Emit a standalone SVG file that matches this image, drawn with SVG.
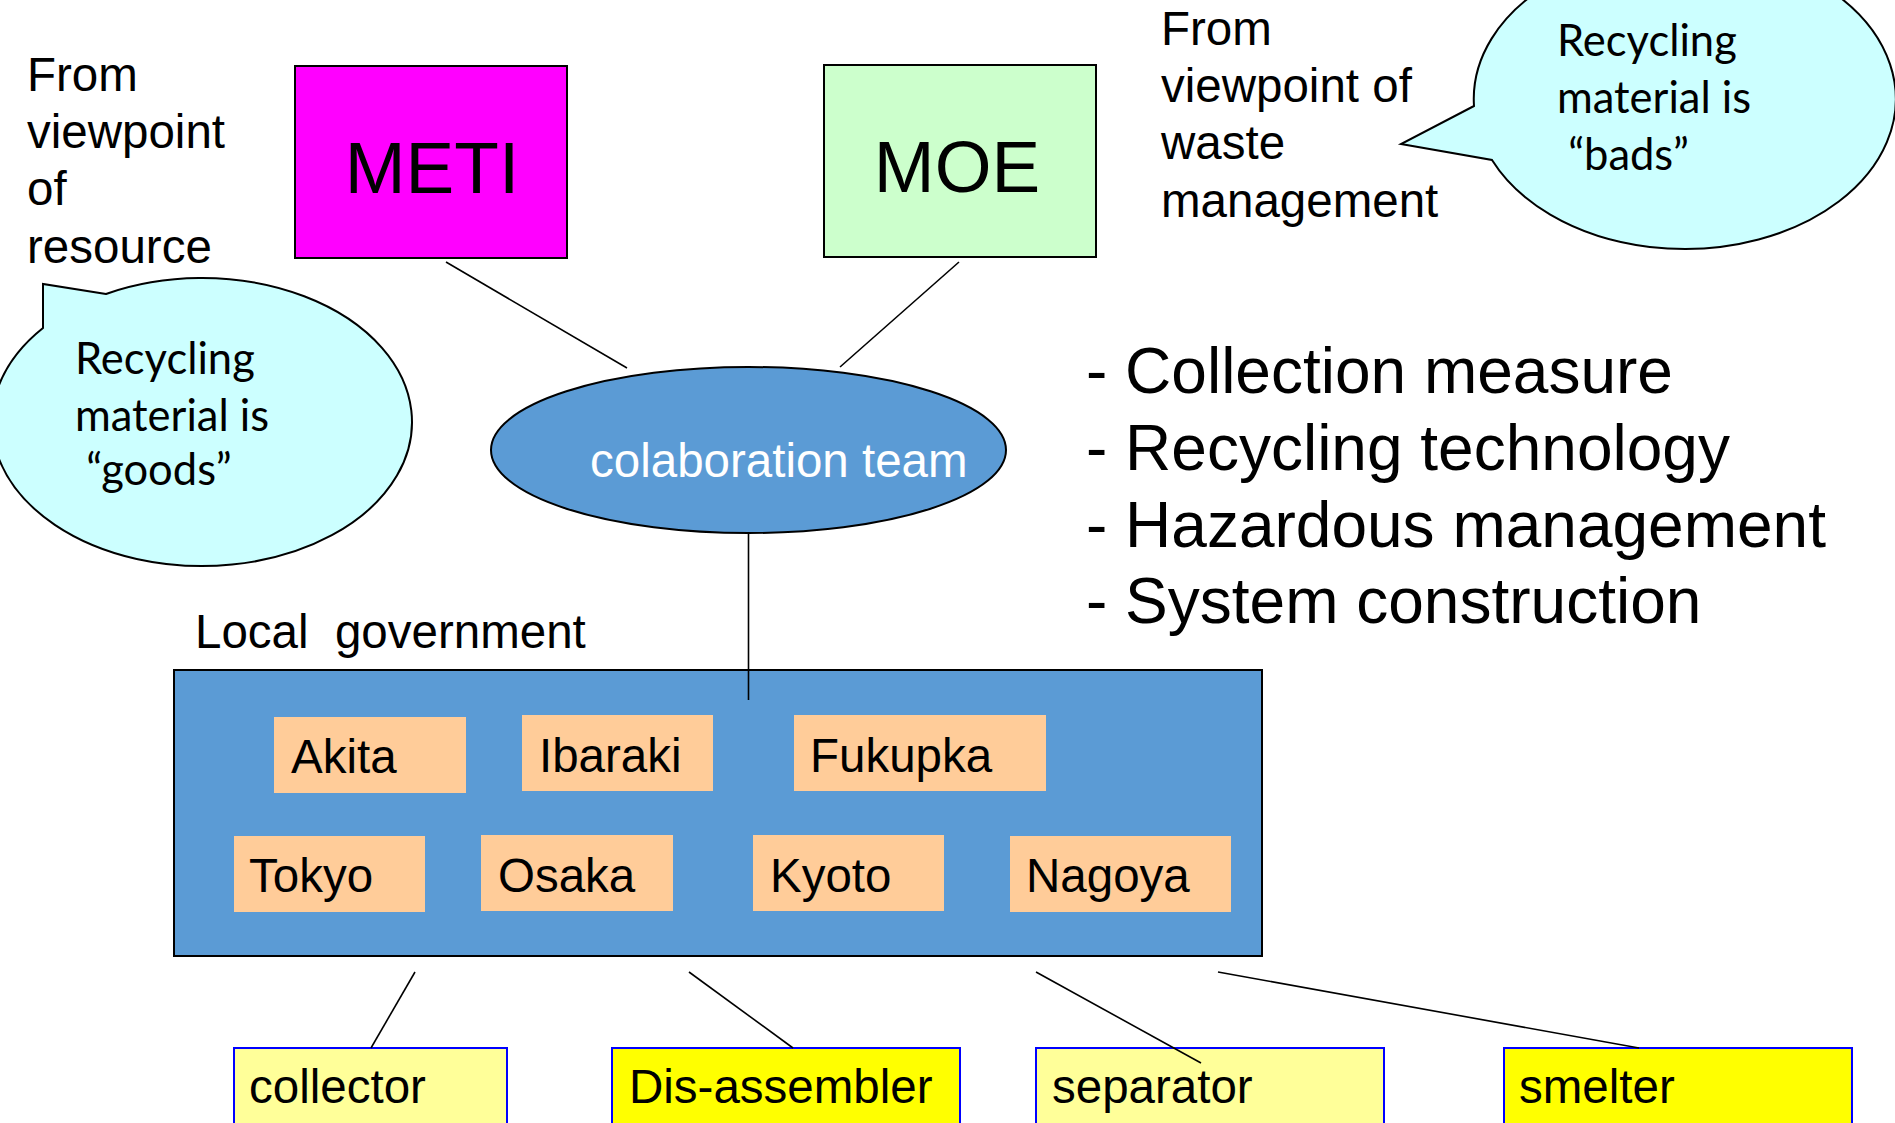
<svg xmlns="http://www.w3.org/2000/svg" width="1895" height="1123" viewBox="0 0 1895 1123">
<style>
text{font-family:"Liberation Sans",Arial,sans-serif;fill:#000}
.t{font-size:47.5px}
.big{font-size:73px;text-anchor:middle}
.list{font-size:64px}
.cal{font-family:Lato,"Liberation Sans",sans-serif;font-size:43.5px}
.city{fill:#FFCC99}
.ln{stroke:#000;stroke-width:1.6;fill:none}
.actor{stroke:#0000FF;stroke-width:2}
.bubble{fill:#CCFFFF;stroke:#000;stroke-width:2}
</style>
<rect width="1895" height="1123" fill="#fff"/>

<g id="note-resource">
<text class="t" x="27" y="91">From</text>
<text class="t" x="27" y="148">viewpoint</text>
<text class="t" x="27" y="205">of</text>
<text class="t" x="27" y="263">resource</text>
</g>

<g id="bubble-goods">
<path class="bubble" d="M 106 294 L 43 284 L 43 328 A 210 144 0 1 0 106 294 Z"/>
<text class="cal" x="75" y="374">Recycling</text>
<text class="cal" x="75" y="431">material is</text>
<text class="cal" x="75" y="485" xml:space="preserve"> “goods”</text>
</g>

<g id="meti">
<rect x="295" y="66" width="272" height="192" fill="#FF00FF" stroke="#000" stroke-width="2"/>
<text class="big" x="432" y="193">METI</text>
</g>

<g id="moe">
<rect x="824" y="65" width="272" height="192" fill="#CCFFCC" stroke="#000" stroke-width="2"/>
<text class="big" x="957" y="192">MOE</text>
</g>

<g id="note-waste">
<text class="t" x="1161" y="45">From</text>
<text class="t" x="1161" y="102">viewpoint of</text>
<text class="t" x="1161" y="159">waste</text>
<text class="t" x="1161" y="217">management</text>
</g>

<g id="bubble-bads">
<path class="bubble" d="M 1474 106 L 1401 144 L 1492 160 A 211 150 0 1 0 1474 106 Z"/>
<text class="cal" x="1557" y="56">Recycling</text>
<text class="cal" x="1557" y="113">material is</text>
<text class="cal" x="1557" y="170" xml:space="preserve"> “bads”</text>
</g>

<g id="team">
<ellipse cx="748.5" cy="450" rx="257.5" ry="83" fill="#5B9BD5" stroke="#000" stroke-width="2"/>
<text class="t" x="590" y="477" style="fill:#fff">colaboration team</text>
</g>

<g id="tasks">
<text class="list" x="1086" y="393">- Collection measure</text>
<text class="list" x="1086" y="470">- Recycling technology</text>
<text class="list" x="1086" y="547">- Hazardous management</text>
<text class="list" x="1086" y="623">- System construction</text>
</g>

<g id="local-government">
<text class="t" x="195" y="648" xml:space="preserve">Local  government</text>
<rect x="174" y="670" width="1088" height="286" fill="#5B9BD5" stroke="#000" stroke-width="2"/>
<g id="akita"><rect class="city" x="274" y="717" width="192" height="76"/><text class="t" x="291" y="773">Akita</text></g>
<g id="ibaraki"><rect class="city" x="522" y="715" width="191" height="76"/><text class="t" x="539" y="772">Ibaraki</text></g>
<g id="fukupka"><rect class="city" x="794" y="715" width="252" height="76"/><text class="t" x="810" y="772">Fukupka</text></g>
<g id="tokyo"><rect class="city" x="234" y="836" width="191" height="76"/><text class="t" x="249" y="892">Tokyo</text></g>
<g id="osaka"><rect class="city" x="481" y="835" width="192" height="76"/><text class="t" x="498" y="892">Osaka</text></g>
<g id="kyoto"><rect class="city" x="753" y="835" width="191" height="76"/><text class="t" x="770" y="892">Kyoto</text></g>
<g id="nagoya"><rect class="city" x="1010" y="836" width="221" height="76"/><text class="t" x="1026" y="892">Nagoya</text></g>
</g>

<g id="collector"><rect class="actor" x="234" y="1048" width="273" height="100" fill="#FFFF99"/><text class="t" x="249" y="1103">collector</text></g>
<g id="disassembler"><rect class="actor" x="612" y="1048" width="348" height="100" fill="#FFFF00"/><text class="t" x="629" y="1103">Dis-assembler</text></g>
<g id="separator"><rect class="actor" x="1036" y="1048" width="348" height="100" fill="#FFFF99"/><text class="t" x="1052" y="1103">separator</text></g>
<g id="smelter"><rect class="actor" x="1504" y="1048" width="348" height="100" fill="#FFFF00"/><text class="t" x="1519" y="1103">smelter</text></g>

<g id="connectors">
<line class="ln" x1="446" y1="262" x2="627" y2="368"/>
<line class="ln" x1="959" y1="262" x2="840" y2="367"/>
<line class="ln" x1="748.5" y1="533" x2="748.5" y2="700"/>
<line class="ln" x1="415" y1="972" x2="371" y2="1048"/>
<line class="ln" x1="689" y1="972" x2="793" y2="1048"/>
<line class="ln" x1="1036" y1="972" x2="1201" y2="1063"/>
<line class="ln" x1="1218" y1="972" x2="1639" y2="1048" stroke-width="2.2"/>
</g>
</svg>
